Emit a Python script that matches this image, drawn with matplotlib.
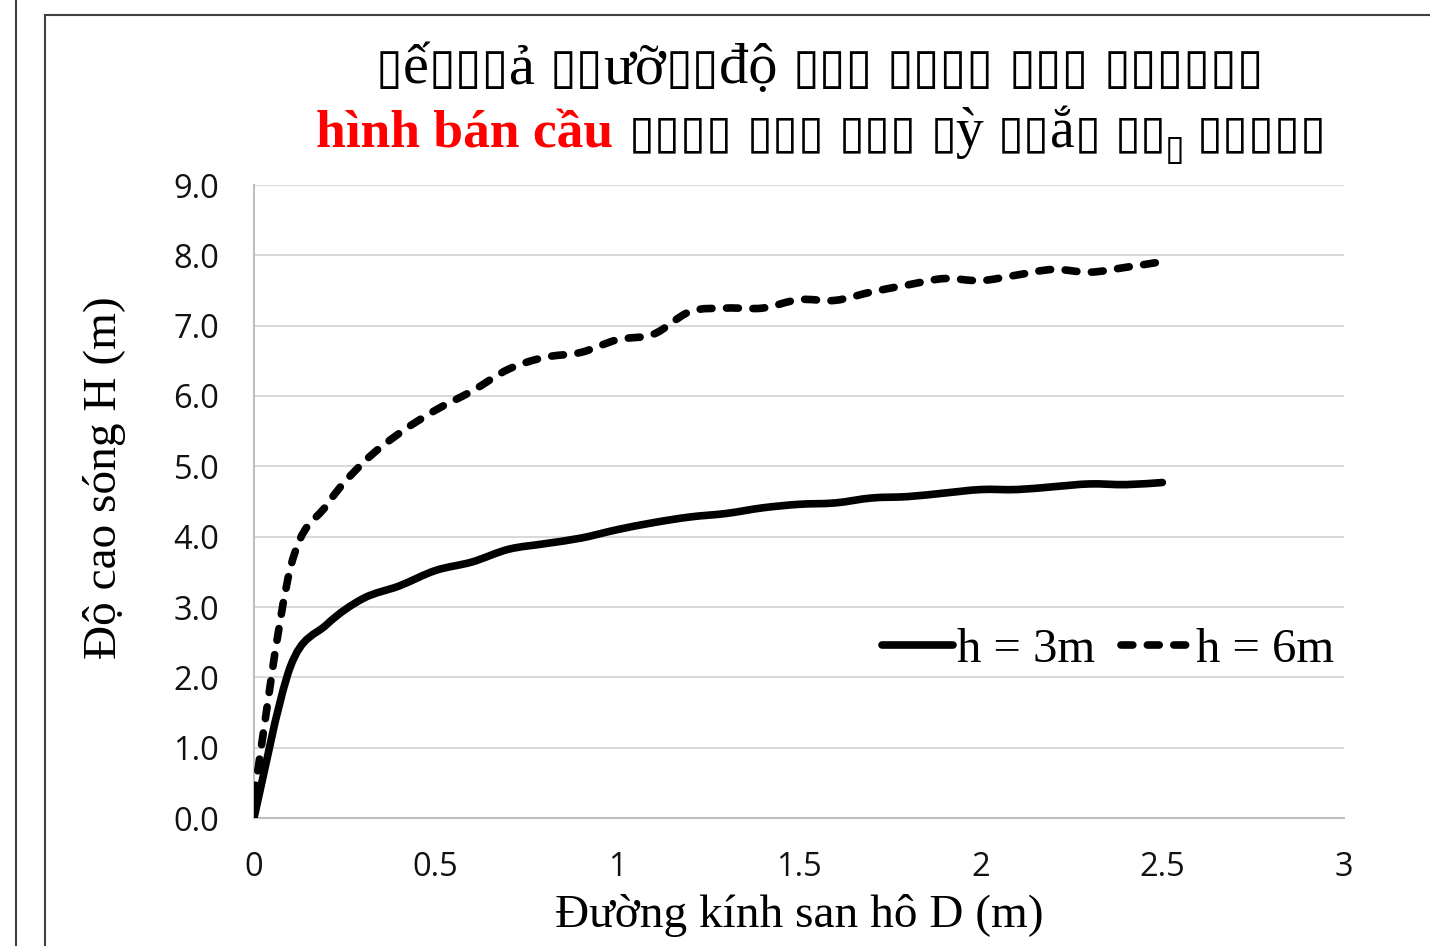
import matplotlib
matplotlib.use("Agg")
import matplotlib.pyplot as plt
from matplotlib.path import Path
from matplotlib.patches import PathPatch
from matplotlib.lines import Line2D
import numpy as np

plt.rcParams['lines.scale_dashes'] = False

# ---------------- data ----------------
D = [0.0, 0.1, 0.2, 0.3, 0.4, 0.5, 0.6, 0.7, 0.8, 0.9, 1.0, 1.1, 1.2,
     1.3, 1.4, 1.5, 1.6, 1.7, 1.8, 1.9, 2.0, 2.1, 2.2, 2.3, 2.4, 2.5]
H_h3 = [0.0, 2.15, 2.75, 3.12, 3.30, 3.52, 3.64, 3.82, 3.90, 3.98, 4.10, 4.20, 4.28,
        4.33, 4.41, 4.46, 4.48, 4.55, 4.57, 4.62, 4.67, 4.67, 4.71, 4.75, 4.74, 4.77]
H_h6 = [0.30, 3.55, 4.45, 5.05, 5.47, 5.80, 6.07, 6.38, 6.55, 6.62, 6.80, 6.88, 7.20,
        7.25, 7.25, 7.37, 7.36, 7.48, 7.58, 7.67, 7.64, 7.72, 7.80, 7.76, 7.83, 7.91]
series_labels = ["h = 3m", "h = 6m"]
x_ticks = [0, 0.5, 1, 1.5, 2, 2.5, 3]
x_ticklabels = ["0", "0.5", "1", "1.5", "2", "2.5", "3"]
y_ticks = [0, 1, 2, 3, 4, 5, 6, 7, 8, 9]
x_label = "Đường kính san hô D (m)"
y_label = "Độ cao sóng H (m)"
B = "\u25af"  # glyph shown as an empty box in the reference title
title_line1 = f"{B}ế{B}{B}{B}ả {B}{B}ưỡ{B}{B}độ {B*3} {B*4} {B*3} {B*6}"
title_line2_red = "hình bán cầu"
title_line2_a = f"{B*4} {B*3} {B*3} {B}ỳ {B}{B}ắ{B} {B}{B}"
title_line2_sub = B
title_line2_b = f"{B*5}"

W, Hpx = 1430, 946
fig = plt.figure(figsize=(W / 100, Hpx / 100), dpi=100)

# frame lines (chart border)
fig.add_artist(Line2D([16 / W, 16 / W], [0, 1], color="#404040", lw=1.5, transform=fig.transFigure))
fig.add_artist(Line2D([45 / W, 45 / W], [0, 1 - 15 / Hpx], color="#404040", lw=1.5, transform=fig.transFigure))
fig.add_artist(Line2D([45 / W, 1], [1 - 15 / Hpx, 1 - 15 / Hpx], color="#404040", lw=1.5, transform=fig.transFigure))

ax = fig.add_axes([254 / W, (Hpx - 818) / Hpx, (1344 - 254) / W, (818 - 185) / Hpx])
ax.set_xlim(0, 3)
ax.set_ylim(0, 9)
ax.set_xticks(x_ticks)
ax.set_xticklabels(x_ticklabels)
ax.set_yticks(y_ticks)
ax.set_yticklabels([f"{v:.1f}" for v in y_ticks])
ax.grid(axis="y", color="#d9d9d9", lw=1.5)
ax.set_axisbelow(True)
for s in ["top", "right"]:
    ax.spines[s].set_visible(False)
for s in ["left", "bottom"]:
    ax.spines[s].set_color("#bfbfbf")
    ax.spines[s].set_linewidth(1.5)
ax.tick_params(length=0)
ax.tick_params(axis="x", pad=24, labelsize=23.5)
ax.tick_params(axis="y", pad=25, labelsize=23.5)
for lab in ax.get_xticklabels() + ax.get_yticklabels():
    lab.set_fontfamily("Open Sans")
    lab.set_color("#111111")


def smooth_path(xs, ys):
    P = np.column_stack([xs, ys])
    n = len(P)
    verts = [P[0]]
    codes = [Path.MOVETO]
    for i in range(n - 1):
        p0 = P[i - 1] if i > 0 else P[i]
        p1 = P[i]
        p2 = P[i + 1]
        p3 = P[i + 2] if i + 2 < n else P[i + 1]
        c1 = p1 + (p2 - p0) / 6.0
        c2 = p2 - (p3 - p1) / 6.0
        verts += [c1, c2, p2]
        codes += [Path.CURVE4] * 3
    return Path(verts, codes)


LW = 5.5
DASH = (0, (8.5, 10.5))
p1 = PathPatch(smooth_path(D, H_h3), fill=False, lw=LW, edgecolor="black",
               capstyle="round", joinstyle="round", zorder=3)
p2 = PathPatch(smooth_path(D, H_h6), fill=False, lw=LW, edgecolor="black",
               linestyle=DASH, capstyle="round", joinstyle="round", zorder=3)
ax.add_patch(p1)
ax.add_patch(p2)

serif = ["Liberation Serif", "DejaVu Serif"]
ax.set_xlabel(x_label, fontfamily=serif, fontsize=34)
ax.set_ylabel(y_label, fontfamily=serif, fontsize=34)
ax.xaxis.set_label_coords(0.5, -(915 - 818) / (818 - 185), transform=ax.transAxes)
ax.xaxis.label.set_va("center")
ax.yaxis.set_label_coords(-(254 - 105) / (1344 - 254), (818 - 478) / (818 - 185))
ax.yaxis.label.set_va("center")

handles = [Line2D([], [], color="black", lw=LW, solid_capstyle="round"),
           Line2D([], [], color="black", lw=LW, linestyle=DASH, dash_capstyle="round")]
ax.legend(handles, series_labels, loc="center", ncol=2, frameon=False,
          bbox_to_anchor=(1108 / W, 1 - 650 / Hpx), bbox_transform=fig.transFigure,
          prop={"family": serif, "size": 35}, handlelength=1.45, handletextpad=0.08,
          columnspacing=0.55)

# ---------------- title (two lines, pieces placed left to right) ----------------
tfam = ["Liberation Serif", "DejaVu Sans"]
renderer = fig.canvas.get_renderer()
LETTER_PT = 42
BOX_PT = 35


def runs(s, letter_kw, box_kw):
    """Split a string into runs of box glyphs and of ordinary letters."""
    out = []
    cur, cur_box = "", None
    for ch in s:
        isbox = ch == B
        if cur and isbox != cur_box:
            out.append((cur, box_kw if cur_box else letter_kw, 0, 0))
            cur = ""
        cur += ch
        cur_box = isbox
    if cur:
        out.append((cur, box_kw if cur_box else letter_kw, 0, 0))
    return out


def place_line(pieces, baseline_px, center_px):
    objs = []
    for s, kw, gap, dy in pieces:
        t = fig.text(0, 1 - (baseline_px + dy) / Hpx, s, va="baseline", ha="left", **kw)
        objs.append((t, gap))
    widths = [t.get_window_extent(renderer).width for t, _ in objs]
    total = sum(widths) + sum(g for _, g in objs)
    x = center_px - total / 2
    for (t, gap), w in zip(objs, widths):
        x += gap
        t.set_x(x / W)
        x += w


letter = dict(fontfamily=tfam, fontsize=LETTER_PT, color="black")
letter2 = dict(fontfamily=tfam, fontsize=40, color="black")
box = dict(fontfamily=tfam, fontsize=BOX_PT, color="black")
box2 = dict(fontfamily=tfam, fontsize=34, color="black")
place_line(runs(title_line1, letter, box), 83, 820)

line2 = [(title_line2_red, dict(fontfamily=tfam, fontsize=38.5, color="red", fontweight="bold"), 0, 0)]
l2a = runs(title_line2_a, letter2, box2)
l2a[0] = (l2a[0][0], l2a[0][1], 16, 0)
line2 += l2a
line2.append((title_line2_sub, dict(fontfamily=tfam, fontsize=26, color="black"), -2, 13))
line2.append((title_line2_b, box2, 12, 0))
place_line(line2, 147, 821)

fig.savefig("out.png", dpi=100)
